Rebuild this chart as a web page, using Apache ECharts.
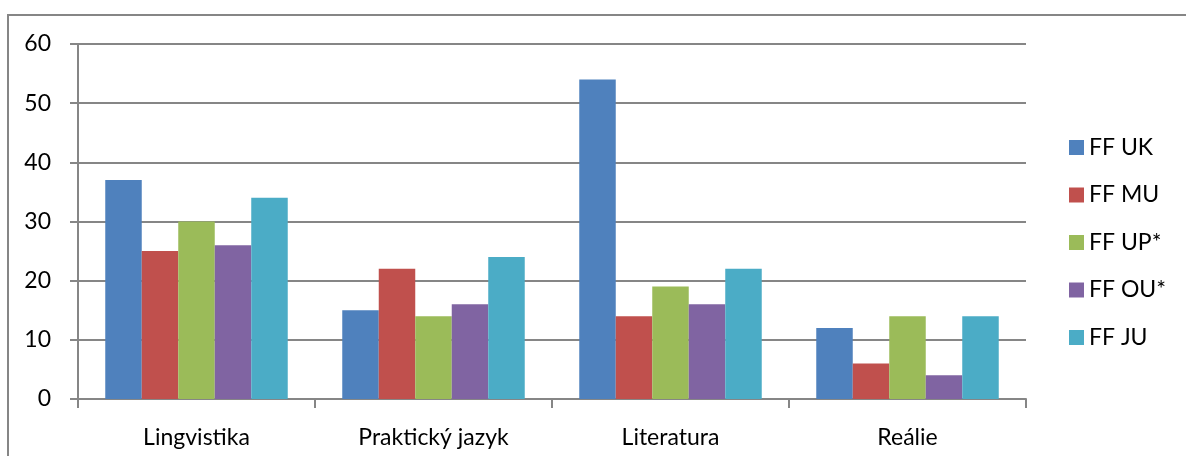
<!DOCTYPE html>
<html>
<head>
<meta charset="utf-8">
<script src="https://cdn.jsdelivr.net/npm/echarts@6/dist/echarts.min.js"></script>
<style>
  html, body { margin: 0; padding: 0; background: #fff; }
  #chart { width: 1186px; height: 456px; }
</style>
</head>
<body>
<div id="chart"></div>
<script>
const categories = ["Lingvistika", "Praktický jazyk", "Literatura", "Reálie"];
const seriesNames = ["FF UK", "FF MU", "FF UP*", "FF OU*", "FF JU"];
const ffUK = [37, 15, 54, 12];
const ffMU = [25, 22, 14, 6];
const ffUP = [30, 14, 19, 14];
const ffOU = [26, 16, 16, 4];
const ffJU = [34, 24, 22, 14];
const colors = ["#4f81bd", "#c0504d", "#9bbb59", "#8064a2", "#4bacc6"];

const chart = echarts.init(document.getElementById("chart"));
const font = "Lato, 'Open Sans', sans-serif";
const values = [ffUK, ffMU, ffUP, ffOU, ffJU];

chart.setOption({
  backgroundColor: "#fff",
  animation: false,
  textStyle: { fontFamily: font },
  graphic: [{
    type: "rect",
    shape: { x: 8, y: 15, width: 1300, height: 600 },
    style: { fill: "none", stroke: "#868686", lineWidth: 2 },
    silent: true
  }],
  grid: { left: 78, right: 160, top: 44, bottom: 57 },
  legend: {
    orient: "vertical",
    left: 1064,
    top: 131,
    itemWidth: 15,
    itemHeight: 15,
    itemGap: 24.5,
    icon: "rect",
    textStyle: { fontSize: 23, color: "#000", fontFamily: font },
    data: seriesNames
  },
  xAxis: {
    type: "category",
    data: categories,
    axisLine: { lineStyle: { color: "#868686", width: 2 } },
    axisTick: { show: true, length: 9, lineStyle: { color: "#868686", width: 2 } },
    axisLabel: { color: "#000", fontSize: 23, margin: 27, fontFamily: font }
  },
  yAxis: {
    type: "value",
    min: 0,
    max: 60,
    interval: 10,
    axisLine: { show: true, lineStyle: { color: "#868686", width: 2 } },
    axisTick: { show: true, length: 8, lineStyle: { color: "#868686", width: 2 } },
    axisLabel: { color: "#000", fontSize: 23, margin: 27, fontFamily: font },
    splitLine: { lineStyle: { color: "#868686", width: 2 } }
  },
  series: seriesNames.map((name, i) => ({
    name: name,
    type: "bar",
    data: values[i],
    barGap: "0%",
    barCategoryGap: "23%",
    itemStyle: { color: colors[i] }
  }))
});
</script>
</body>
</html>
